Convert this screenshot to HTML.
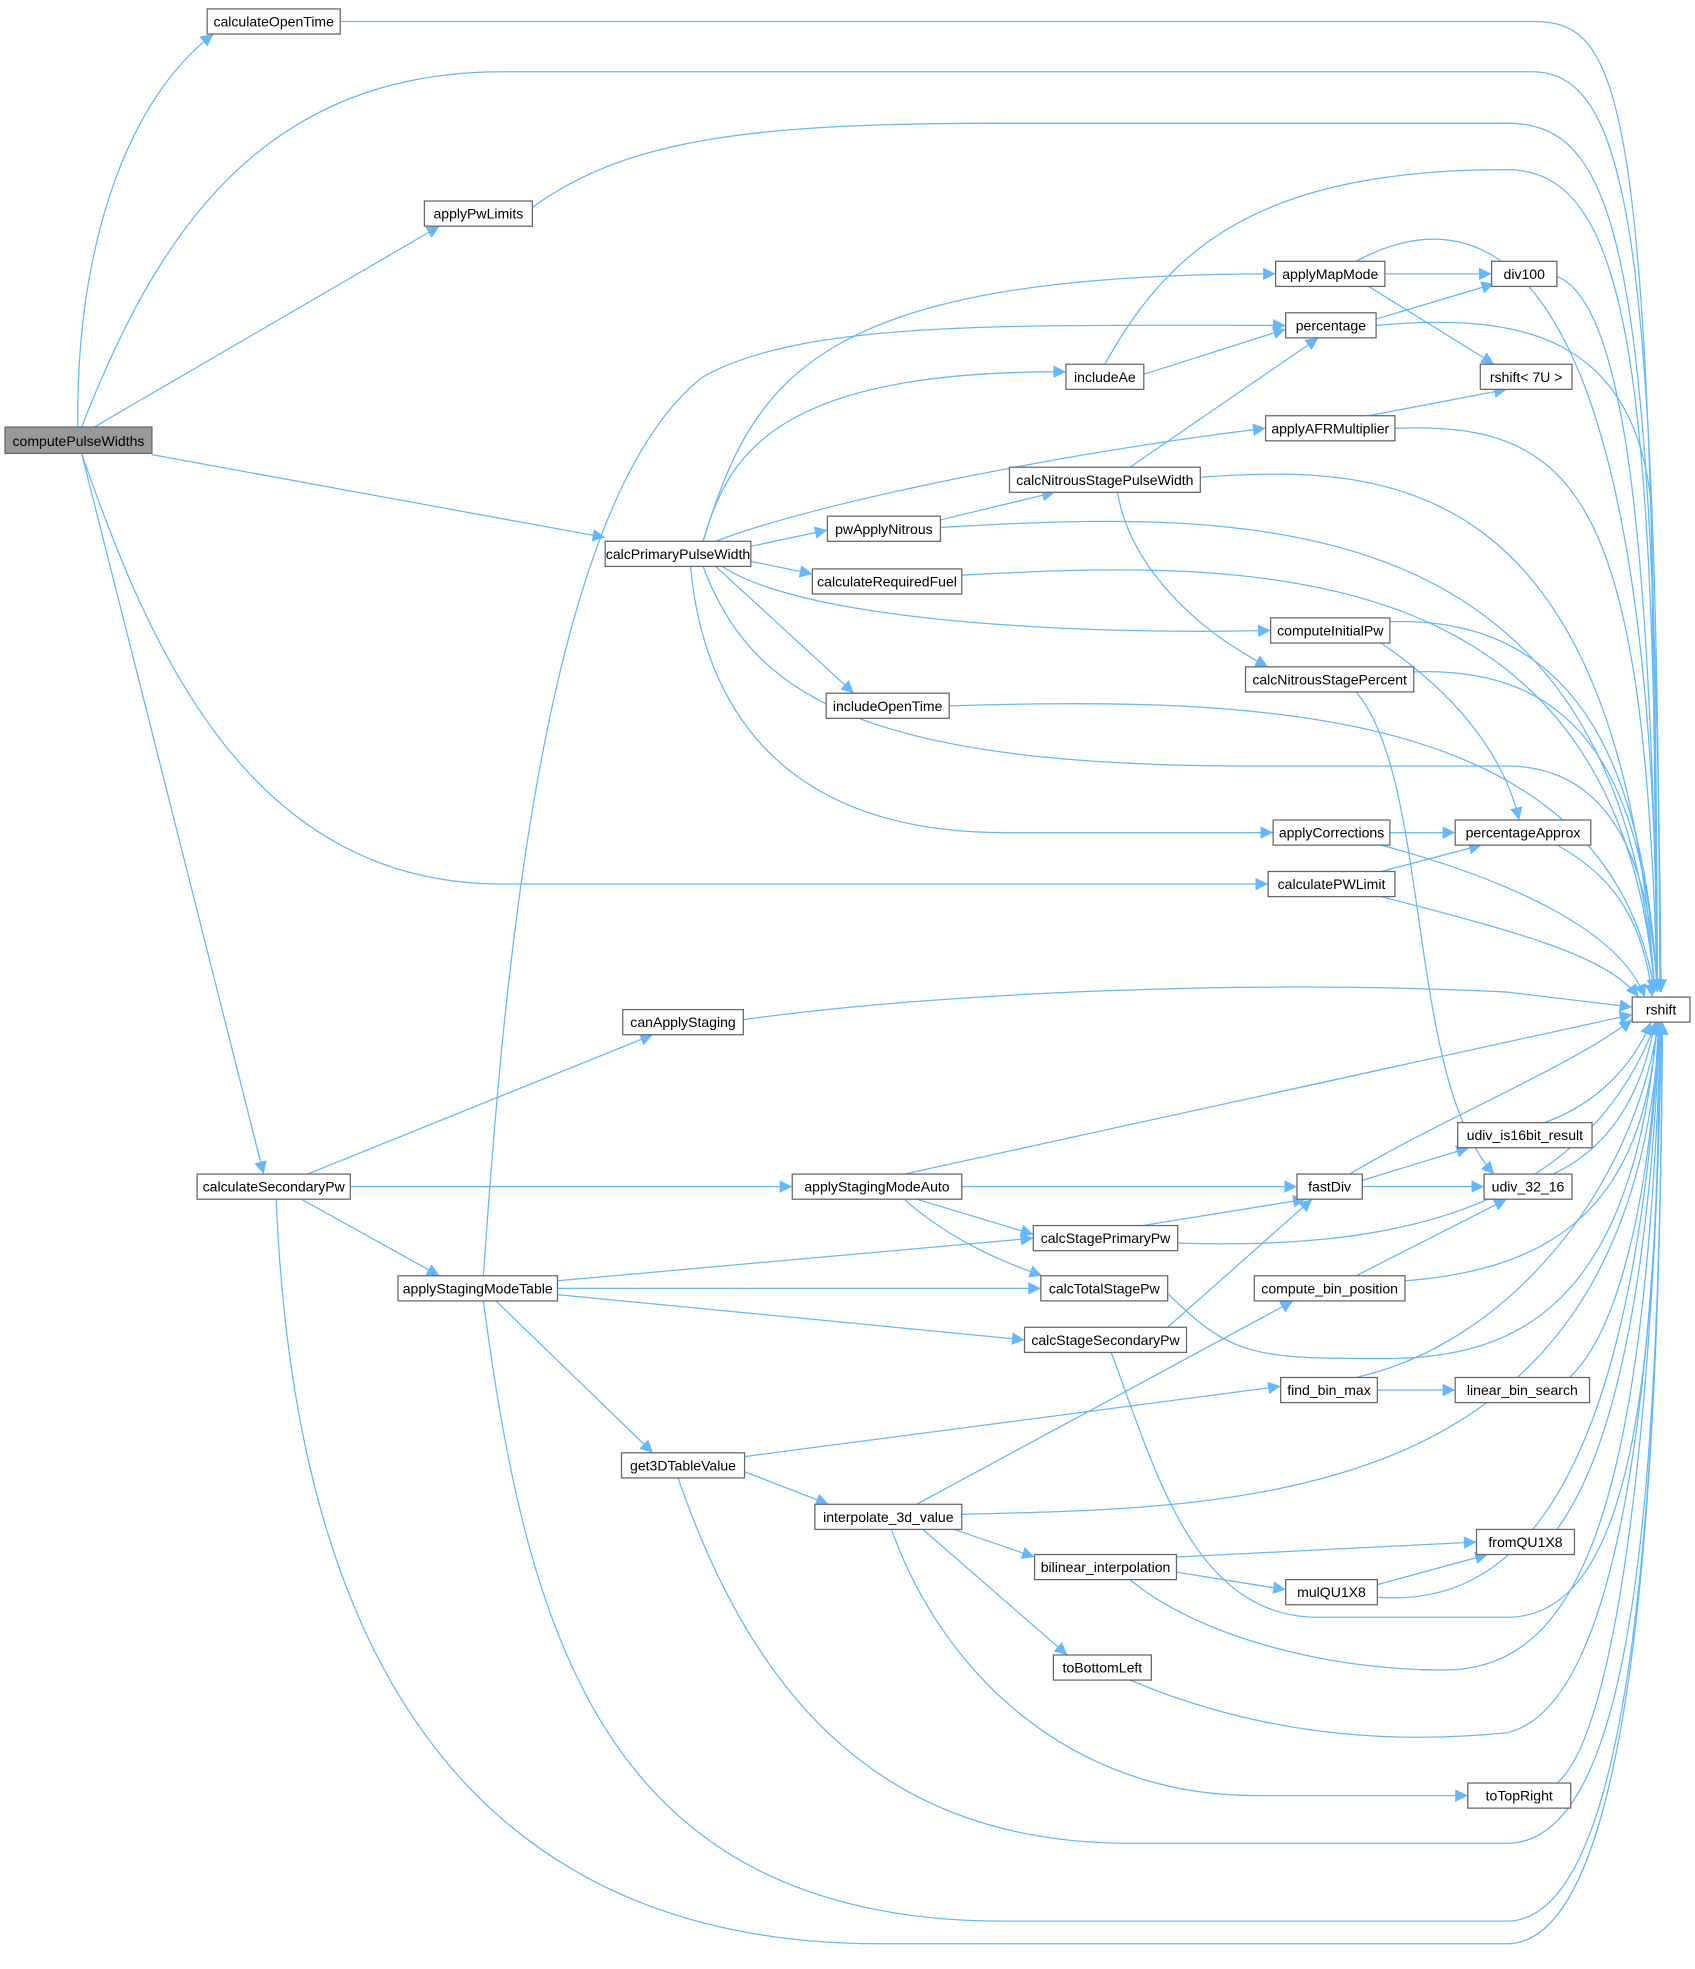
<!DOCTYPE html>
<html><head><meta charset="utf-8"><style>
html,body{margin:0;padding:0;background:#fff}
svg{display:block}
text{font-family:"Liberation Sans",Arial,sans-serif;font-size:11.2px;fill:#000}
.n{fill:#fff;stroke:#666;stroke-width:1}
.e{fill:none;stroke:#63b8ff;stroke-width:1}
</style></head><body>
<svg width="1695" height="1969" viewBox="0 0 1350 1568" xmlns="http://www.w3.org/2000/svg">
<defs><marker id="a" viewBox="0 0 10 10" refX="10" refY="5" markerWidth="11" markerHeight="10" markerUnits="userSpaceOnUse" orient="auto"><path d="M0,0 L10,5 L0,10z" fill="#63b8ff"/></marker></defs>
<g class="e" marker-end="url(#a)">
<path d="M271,17 L1220,17 C1290,17 1318,60 1320,790"/>
<path d="M65,340 C120,200 200,57 400,57 L1220,57 C1300,57 1320,200 1322,790"/>
<path d="M424,165 C500,110 600,98 800,98 L1200,98 C1290,98 1318,200 1323,790"/>
<path d="M62,340 C60,200 100,80 170,27"/>
<path d="M75,340 L350,180"/>
<path d="M121,362 L482,428"/>
<path d="M65,361 C120,520 200,704 400,704 L1010,704"/>
<path d="M65,361 L210,935"/>
<path d="M220,955 C230,1200 300,1548 700,1548 L1200,1548 C1300,1548 1322,1200 1324,814"/>
<path d="M245,935 L520,824"/>
<path d="M279,945 L631,945"/>
<path d="M240,955 L350,1016"/>
<path d="M592,812 C750,790 1000,780 1200,790 L1300,802"/>
<path d="M720,935 L1300,808"/>
<path d="M766,945 L1033,945"/>
<path d="M730,955 L823,983"/>
<path d="M720,955 C760,990 800,1005 830,1016"/>
<path d="M385,1016 C400,800 430,400 560,300 C640,255 800,259 1024,259"/>
<path d="M444,1020 L823,986"/>
<path d="M444,1026 L829,1026"/>
<path d="M444,1031 L816,1067"/>
<path d="M395,1036 L520,1157"/>
<path d="M385,1036 C420,1300 480,1530 800,1530 L1200,1530 C1300,1530 1322,1200 1324,814"/>
<path d="M560,431 C600,300 650,218 1016,218"/>
<path d="M560,431 C580,360 620,295 849,296"/>
<path d="M570,431 C650,400 850,360 1008,341"/>
<path d="M598,435 L659,422"/>
<path d="M598,447 L647,457"/>
<path d="M575,451 C650,500 900,505 1012,502"/>
<path d="M570,451 L680,552"/>
<path d="M560,451 C600,560 700,610 1000,610 L1200,610 C1290,610 1315,700 1320,790"/>
<path d="M550,451 C560,560 620,663 800,663 L1014,663"/>
<path d="M1080,208 C1160,165 1318,150 1320,790"/>
<path d="M1103,218 L1188,218"/>
<path d="M1090,228 L1190,290"/>
<path d="M1096,254 L1190,226"/>
<path d="M1096,259 C1200,250 1300,260 1315,400 L1320,790"/>
<path d="M911,298 L1024,262"/>
<path d="M880,290 C930,200 1000,135 1200,135 C1300,135 1318,300 1320,790"/>
<path d="M1240,220 C1290,240 1315,400 1320,790"/>
<path d="M1090,331 L1200,310"/>
<path d="M1111,341 C1260,335 1310,400 1320,790"/>
<path d="M900,372 L1050,269"/>
<path d="M956,380 C1100,370 1290,370 1318,790"/>
<path d="M890,392 C900,450 950,500 1010,531"/>
<path d="M749,414 L840,392"/>
<path d="M749,420 C1000,405 1290,400 1318,790"/>
<path d="M766,458 C1000,445 1290,440 1318,790"/>
<path d="M1100,512 C1170,560 1200,610 1210,653"/>
<path d="M1107,495 C1250,490 1310,600 1320,790"/>
<path d="M1080,551 C1140,620 1120,860 1190,935"/>
<path d="M1126,535 C1260,530 1310,620 1320,790"/>
<path d="M756,562 C1000,555 1280,560 1318,790"/>
<path d="M1107,663 L1159,663"/>
<path d="M1100,673 C1200,700 1290,740 1310,794"/>
<path d="M1100,694 L1180,673"/>
<path d="M1100,714 C1200,740 1280,760 1305,794"/>
<path d="M1240,673 C1290,700 1310,740 1316,794"/>
<path d="M1075,935 C1150,890 1250,850 1300,812"/>
<path d="M1085,940 L1170,914"/>
<path d="M1085,945 L1182,945"/>
<path d="M1230,894 C1270,880 1300,850 1315,814"/>
<path d="M1237,935 C1290,910 1310,860 1318,814"/>
<path d="M910,976 L1040,955"/>
<path d="M938,990 C1100,995 1260,970 1319,814"/>
<path d="M930,1030 C980,1080 1000,1082 1100,1082 C1200,1082 1300,1050 1320,814"/>
<path d="M930,1057 L1045,955"/>
<path d="M885,1077 C920,1170 950,1288 1050,1288 L1200,1288 C1300,1288 1320,1100 1322,814"/>
<path d="M1080,1016 L1200,955"/>
<path d="M1119,1020 C1250,1010 1310,950 1320,814"/>
<path d="M1097,1107 L1159,1107"/>
<path d="M1080,1097 C1200,1070 1300,950 1321,814"/>
<path d="M1250,1097 C1290,1060 1315,950 1321,814"/>
<path d="M593,1160 L1020,1104"/>
<path d="M593,1172 L660,1198"/>
<path d="M540,1177 C600,1350 700,1468 900,1468 L1200,1468 C1300,1468 1322,1200 1324,814"/>
<path d="M730,1198 L1030,1036"/>
<path d="M766,1206 C1000,1200 1300,1200 1322,814"/>
<path d="M760,1218 L824,1240"/>
<path d="M735,1218 L850,1318"/>
<path d="M710,1218 C750,1330 850,1430 1000,1430 L1169,1430"/>
<path d="M937,1240 L1176,1228"/>
<path d="M937,1252 L1024,1266"/>
<path d="M900,1258 C950,1300 1050,1330 1150,1330 C1260,1330 1310,1200 1323,814"/>
<path d="M1097,1262 L1185,1238"/>
<path d="M1097,1272 C1200,1280 1300,1200 1322,814"/>
<path d="M1240,1218 C1290,1150 1315,1000 1322,814"/>
<path d="M900,1338 C1000,1380 1100,1390 1200,1380 C1290,1360 1320,1100 1323,814"/>
<path d="M1240,1420 C1290,1380 1320,1100 1323,814"/>
</g>
<g text-anchor="middle">
<rect class="n" x="165" y="7" width="106" height="20"/><text x="218" y="21">calculateOpenTime</text>
<rect x="4" y="340" width="117" height="21" fill="#999" stroke="#666"/><text x="62.5" y="355">computePulseWidths</text>
<rect class="n" x="338" y="160" width="86" height="20"/><text x="381" y="174">applyPwLimits</text>
<rect class="n" x="482" y="431" width="116" height="20"/><text x="540" y="445">calcPrimaryPulseWidth</text>
<rect class="n" x="1016" y="208" width="87" height="20"/><text x="1059.5" y="222">applyMapMode</text>
<rect class="n" x="1188" y="208" width="52" height="20"/><text x="1214" y="222">div100</text>
<rect class="n" x="1024" y="249" width="72" height="20"/><text x="1060" y="263">percentage</text>
<rect class="n" x="849" y="290" width="62" height="20"/><text x="880" y="304">includeAe</text>
<rect class="n" x="1179" y="290" width="73" height="20"/><text x="1215.5" y="304">rshift&lt; 7U &gt;</text>
<rect class="n" x="1008" y="331" width="103" height="20"/><text x="1059.5" y="345">applyAFRMultiplier</text>
<rect class="n" x="804" y="372" width="152" height="20"/><text x="880" y="386">calcNitrousStagePulseWidth</text>
<rect class="n" x="659" y="411" width="90" height="20"/><text x="704" y="425">pwApplyNitrous</text>
<rect class="n" x="647" y="453" width="119" height="20"/><text x="706.5" y="467">calculateRequiredFuel</text>
<rect class="n" x="1012" y="492" width="95" height="20"/><text x="1059.5" y="506">computeInitialPw</text>
<rect class="n" x="992" y="531" width="134" height="20"/><text x="1059" y="545">calcNitrousStagePercent</text>
<rect class="n" x="658" y="552" width="98" height="20"/><text x="707" y="566">includeOpenTime</text>
<rect class="n" x="1014" y="653" width="93" height="20"/><text x="1060.5" y="667">applyCorrections</text>
<rect class="n" x="1159" y="653" width="108" height="20"/><text x="1213" y="667">percentageApprox</text>
<rect class="n" x="1010" y="694" width="101" height="20"/><text x="1060.5" y="708">calculatePWLimit</text>
<rect class="n" x="1300" y="794" width="46" height="20"/><text x="1323" y="808">rshift</text>
<rect class="n" x="496" y="804" width="96" height="20"/><text x="544" y="818">canApplyStaging</text>
<rect class="n" x="1161" y="894" width="107" height="20"/><text x="1214.5" y="908">udiv_is16bit_result</text>
<rect class="n" x="157" y="935" width="122" height="20"/><text x="218" y="949">calculateSecondaryPw</text>
<rect class="n" x="631" y="935" width="135" height="20"/><text x="698.5" y="949">applyStagingModeAuto</text>
<rect class="n" x="1033" y="935" width="52" height="20"/><text x="1059" y="949">fastDiv</text>
<rect class="n" x="1182" y="935" width="70" height="20"/><text x="1217" y="949">udiv_32_16</text>
<rect class="n" x="823" y="976" width="115" height="20"/><text x="880.5" y="990">calcStagePrimaryPw</text>
<rect class="n" x="317" y="1016" width="127" height="20"/><text x="380.5" y="1030">applyStagingModeTable</text>
<rect class="n" x="829" y="1016" width="101" height="20"/><text x="879.5" y="1030">calcTotalStagePw</text>
<rect class="n" x="999" y="1016" width="120" height="20"/><text x="1059" y="1030">compute_bin_position</text>
<rect class="n" x="816" y="1057" width="129" height="20"/><text x="880.5" y="1071">calcStageSecondaryPw</text>
<rect class="n" x="1020" y="1097" width="77" height="20"/><text x="1058.5" y="1111">find_bin_max</text>
<rect class="n" x="1159" y="1097" width="107" height="20"/><text x="1212.5" y="1111">linear_bin_search</text>
<rect class="n" x="495" y="1157" width="98" height="20"/><text x="544" y="1171">get3DTableValue</text>
<rect class="n" x="649" y="1198" width="117" height="20"/><text x="707.5" y="1212">interpolate_3d_value</text>
<rect class="n" x="1176" y="1218" width="78" height="20"/><text x="1215" y="1232">fromQU1X8</text>
<rect class="n" x="824" y="1238" width="113" height="20"/><text x="880.5" y="1252">bilinear_interpolation</text>
<rect class="n" x="1024" y="1258" width="73" height="20"/><text x="1060.5" y="1272">mulQU1X8</text>
<rect class="n" x="839" y="1318" width="78" height="20"/><text x="878" y="1332">toBottomLeft</text>
<rect class="n" x="1169" y="1420" width="82" height="20"/><text x="1210" y="1434">toTopRight</text>
</g>
</svg>
</body></html>
